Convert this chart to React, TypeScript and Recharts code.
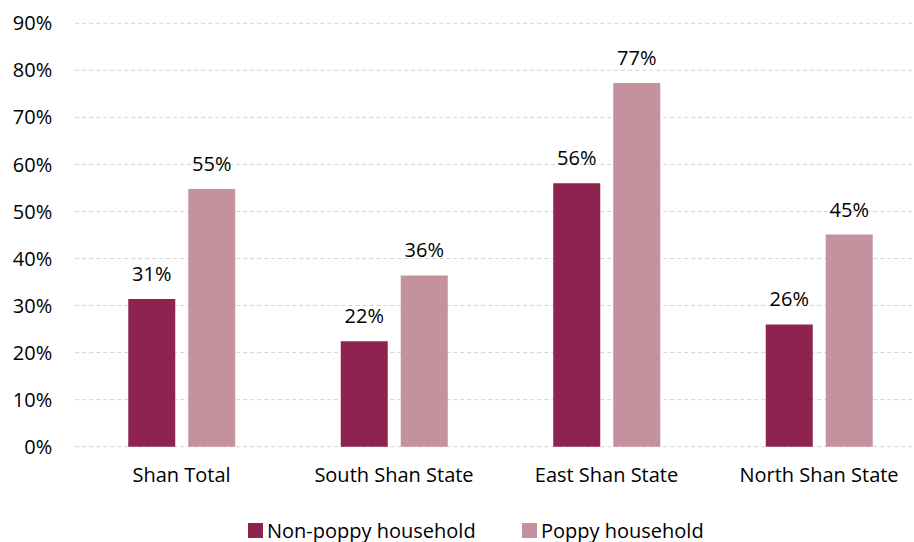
import { BarChart, Bar, XAxis, YAxis, CartesianGrid, LabelList } from 'recharts';

const categories = ['Shan Total', 'South Shan State', 'East Shan State', 'North Shan State'];
const nonPoppy = [31.4, 22.4, 56.0, 26.0];
const poppy = [54.8, 36.4, 77.3, 45.1];
const yTicks = [0, 10, 20, 30, 40, 50, 60, 70, 80, 90];

const NON_POPPY = '#8e2350';
const POPPY = '#c4929e';
const FONT = '"Open Sans", sans-serif';
const FONT_SIZE = 20;

const chartData = categories.map((name, i) => ({
  name,
  nonPoppy: nonPoppy[i],
  poppy: poppy[i],
}));

const pct = (v: number) => `${Math.round(v)}%`;

// legend entries, left edge of each swatch
const legendItems = [
  { label: 'Non-poppy household', color: NON_POPPY, left: 248 },
  { label: 'Poppy household', color: POPPY, left: 522 },
];

export default function App() {
  return (
    <div
      style={{
        position: 'fixed',
        left: 0,
        top: 0,
        width: 914,
        height: 542,
        overflow: 'hidden',
        background: '#fff',
        fontFamily: FONT,
      }}
    >
      <BarChart
        width={940}
        height={542}
        data={chartData}
        margin={{ top: 23.3, right: 14.75, bottom: 65.3, left: 0 }}
        barSize={47}
        barGap={13}
      >
        <CartesianGrid vertical={false} stroke="#d4d4d4" strokeDasharray="4 3" />
        <XAxis
          dataKey="name"
          axisLine={false}
          tickLine={false}
          tickMargin={15}
          height={30}
          interval={0}
          tick={{ fill: '#000', fontSize: FONT_SIZE, fontFamily: FONT }}
        />
        <YAxis
          width={75.25}
          domain={[0, 90]}
          ticks={yTicks}
          axisLine={false}
          tickLine={false}
          tickMargin={17}
          tickFormatter={(v: number) => `${v}%`}
          tick={{ fill: '#000', fontSize: FONT_SIZE, fontFamily: FONT }}
        />
        <Bar dataKey="nonPoppy" fill={NON_POPPY} isAnimationActive={false}>
          <LabelList
            dataKey="nonPoppy"
            position="top"
            offset={18}
            formatter={(v: number) => pct(v)}
            style={{ fill: '#000', fontSize: FONT_SIZE, fontFamily: FONT }}
          />
        </Bar>
        <Bar dataKey="poppy" fill={POPPY} isAnimationActive={false}>
          <LabelList
            dataKey="poppy"
            position="top"
            offset={18}
            formatter={(v: number) => pct(v)}
            style={{ fill: '#000', fontSize: FONT_SIZE, fontFamily: FONT }}
          />
        </Bar>
      </BarChart>
      {legendItems.map(item => (
        <div
          key={item.label}
          style={{
            position: 'absolute',
            left: item.left,
            top: 520,
            height: 21,
            display: 'flex',
            alignItems: 'center',
            gap: 4,
            fontSize: FONT_SIZE,
            lineHeight: 1,
            color: '#000',
            whiteSpace: 'nowrap',
          }}
        >
          <span style={{ width: 15, height: 15, background: item.color, display: 'inline-block' }} />
          <span>{item.label}</span>
        </div>
      ))}
    </div>
  );
}
